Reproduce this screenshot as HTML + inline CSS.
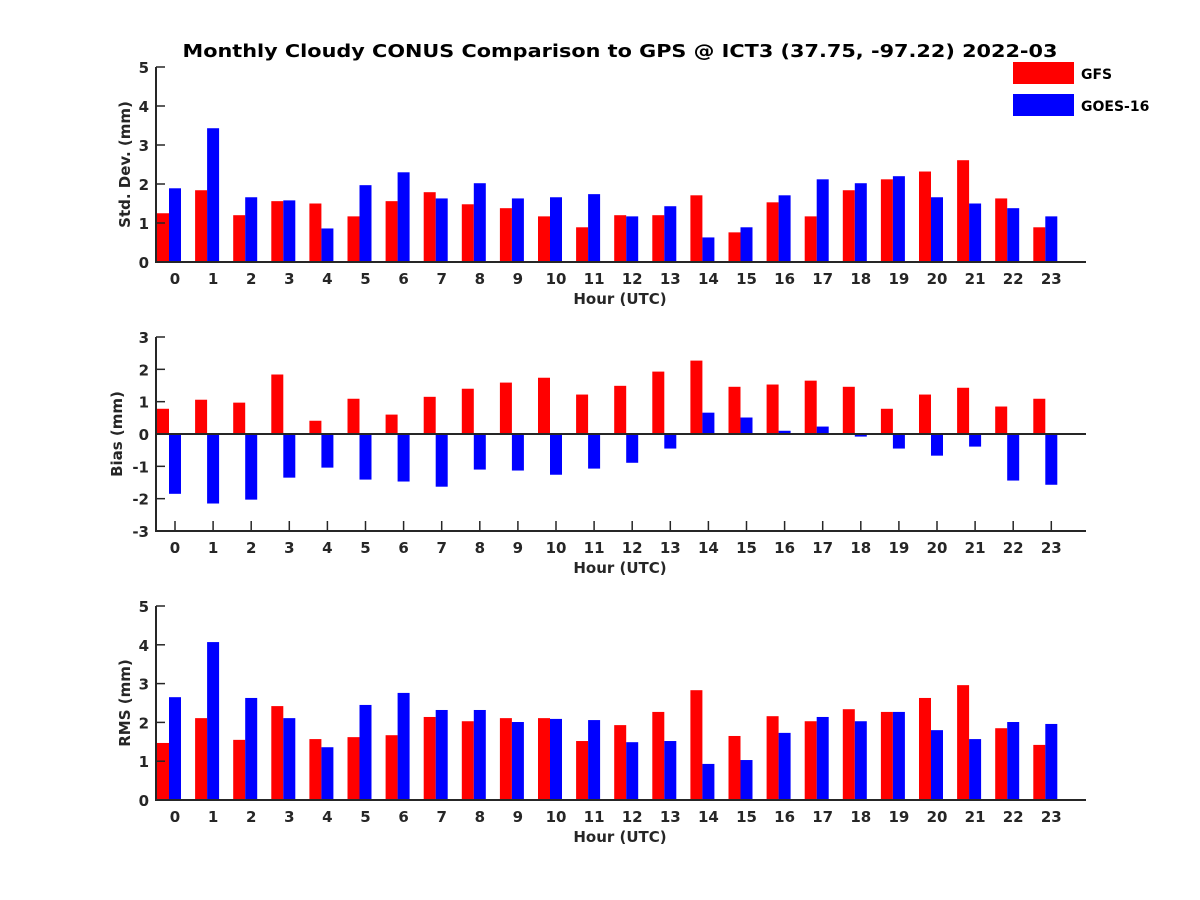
<!DOCTYPE html>
<html><head><meta charset="utf-8"><style>
body{margin:0;background:#fff}
svg{display:block;font-family:"DejaVu Sans","Liberation Sans",sans-serif;font-weight:bold}
</style></head><body>
<svg id="chart" width="1200" height="900">
<rect width="1200" height="900" fill="#fff"/>
<text x="620" y="57" text-anchor="middle" font-size="18" fill="#000" textLength="875" lengthAdjust="spacingAndGlyphs">Monthly Cloudy CONUS Comparison to GPS @ ICT3 (37.75, -97.22) 2022-03</text>
<rect x="1013" y="62" width="61" height="22" fill="#ff0000"/>
<text x="1081" y="79" font-size="14" fill="#000">GFS</text>
<rect x="1013" y="94" width="61" height="22" fill="#0000ff"/>
<text x="1081" y="111" font-size="14" fill="#000">GOES-16</text>
</svg>
<script>
const hours=[0,1,2,3,4,5,6,7,8,9,10,11,12,13,14,15,16,17,18,19,20,21,22,23];
const stdGFS=[1.25,1.84,1.20,1.56,1.50,1.17,1.56,1.79,1.48,1.38,1.17,0.89,1.20,1.20,1.71,0.76,1.53,1.17,1.84,2.12,2.32,2.61,1.63,0.89];
const stdGOES=[1.89,3.43,1.66,1.58,0.86,1.97,2.30,1.63,2.02,1.63,1.66,1.74,1.17,1.43,0.63,0.89,1.71,2.12,2.02,2.20,1.66,1.50,1.38,1.17];
const biasGFS=[0.78,1.06,0.97,1.84,0.41,1.09,0.60,1.15,1.40,1.59,1.74,1.22,1.49,1.93,2.27,1.46,1.53,1.65,1.46,0.78,1.22,1.43,0.85,1.09];
const biasGOES=[-1.85,-2.15,-2.03,-1.35,-1.04,-1.41,-1.47,-1.63,-1.10,-1.13,-1.26,-1.07,-0.89,-0.45,0.66,0.51,0.10,0.23,-0.08,-0.45,-0.67,-0.39,-1.44,-1.57];
const rmsGFS=[1.47,2.11,1.55,2.42,1.57,1.62,1.67,2.14,2.03,2.11,2.11,1.52,1.93,2.27,2.83,1.65,2.16,2.03,2.34,2.27,2.63,2.96,1.85,1.42];
const rmsGOES=[2.65,4.07,2.63,2.11,1.36,2.45,2.76,2.32,2.32,2.01,2.09,2.06,1.49,1.52,0.93,1.03,1.73,2.14,2.03,2.27,1.80,1.57,2.01,1.96];
const stdTicks=[0,1,2,3,4,5];
const biasTicks=[-3,-2,-1,0,1,2,3];
const rmsTicks=[0,1,2,3,4,5];

const NS='http://www.w3.org/2000/svg';
const svg=document.getElementById('chart');
function mk(tag,attrs,parent){const e=document.createElementNS(NS,tag);for(const k in attrs)e.setAttribute(k,attrs[k]);(parent||svg).appendChild(e);return e;}
const X0=156,X1=1086;
function xs(h){return 175+38.1*h;}
const BW=12;
function panel(name,top,bottom,ymin,ymax,ticks,gfs,goes,ylabel,ylabelX,xlabelY,hasZero){
  const g=mk('g',{});
  
  
  const ys=v=>bottom-(v-ymin)/(ymax-ymin)*(bottom-top);
  const base=ys(Math.max(ymin,0));
  hours.forEach((h,i)=>{
    const tk=mk('line',{x1:xs(h),x2:xs(h),y1:bottom,y2:bottom-10,stroke:'#262626','stroke-width':1.5},g);
    
    
    const y1=ys(gfs[i]);
    const r=mk('rect',{x:xs(h)-BW*1.5,y:Math.min(y1,base),width:BW,height:Math.abs(base-y1),fill:'#ff0000'},g);
    
    
    const y2=ys(goes[i]);
    const b=mk('rect',{x:xs(h)-BW*0.5,y:Math.min(y2,base),width:BW,height:Math.abs(base-y2),fill:'#0000ff'},g);
    
    
    const t=mk('text',{x:xs(h),y:bottom+22,'text-anchor':'middle','font-size':15,fill:'#262626'},g);
    t.textContent=h;
    
    
  });
  ticks.forEach(v=>{
    const y=ys(v);
    const tk=mk('line',{x1:X0,x2:X0+9,y1:y,y2:y,stroke:'#262626','stroke-width':1.5},g);
    
    
    const t=mk('text',{x:X0-7,y:y+6,'text-anchor':'end','font-size':15,fill:'#262626'},g);
    t.textContent=v;
    
    
  });
  if(hasZero){
    const z=mk('line',{x1:X0,x2:X1,y1:ys(0),y2:ys(0),stroke:'#262626','stroke-width':2},g);
    
    
  }
  const ax=mk('path',{d:`M${X0} ${top} V${bottom} H${X1}`,fill:'none',stroke:'#262626','stroke-width':2},g);
  
  
  const yl=mk('text',{x:ylabelX,y:(top+bottom)/2,'text-anchor':'middle','font-size':15,fill:'#262626',transform:`rotate(-90 ${ylabelX} ${(top+bottom)/2})`},g);
  yl.textContent=ylabel;
  
  
  const xl=mk('text',{x:620,y:xlabelY,'text-anchor':'middle','font-size':15,fill:'#262626'},g);
  xl.textContent='Hour (UTC)';
  
  
}
panel('std-dev',67,262,0,5,stdTicks,stdGFS,stdGOES,'Std. Dev. (mm)',130,304,false);
panel('bias',337,531,-3,3,biasTicks,biasGFS,biasGOES,'Bias (mm)',122,573,true);
panel('rms',606,800,0,5,rmsTicks,rmsGFS,rmsGOES,'RMS (mm)',130,842,false);
</script>
</body></html>
